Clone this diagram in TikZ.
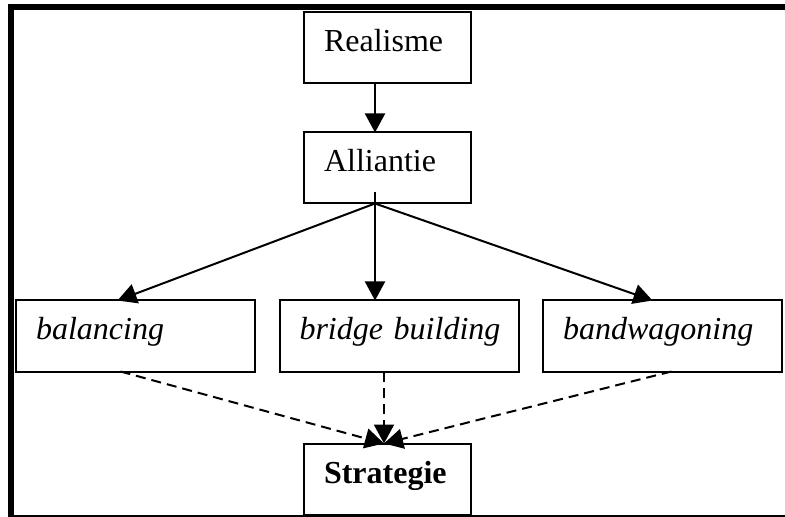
\documentclass[tikz,border=0pt]{standalone}
\usepackage{fontspec}
\setmainfont{Liberation Serif}
\usetikzlibrary{arrows.meta,positioning}
\tikzset{
  font=\fontsize{16pt}{19pt}\selectfont,
  box/.style={
    draw,
    line width=1pt,
    align=left,
    text width=63.5pt,
    minimum height=35.5pt,
    inner xsep=10pt,
    inner ysep=2pt,
    text height=11.2pt,
    text depth=7.2pt,
    outer sep=0pt
  },
  widebox/.style={
    box,
    text width=99.5pt,
    font=\fontsize{16pt}{19pt}\selectfont\itshape
  },
  frame/.style={line width=3pt},
  arrow/.style={-{Triangle[length=9.5pt,width=10pt]}, line width=1pt},
  dashedarrow/.style={arrow, dash pattern=on 5pt off 3pt}
}

\begin{document}
\begin{tikzpicture}[x=0.5pt, y=-0.5pt]
\useasboundingbox (0,0) rectangle (785,517);

% frame
\draw[frame] (8,7.3) -- (785,7.3);
\draw[frame] (11.2,4.5) -- (11.2,517);
\draw[line width=0.8pt] (11.2,516) -- (785,516);

\node[box] (realisme) at (387.5,48) {Realisme};
\node[box, below=24.5pt of realisme] (alliantie) {Alliantie};

% the three options
\node[widebox, below=48.5pt of alliantie, xshift=5.75pt] (bridge) {\mbox{bridge building}};
\node[widebox, left=12.25pt of bridge] (balancing) {balancing};
\node[widebox, right=12.25pt of bridge] (bandwagoning) {bandwagoning};

\node[box, below=36pt of bridge, xshift=-5.75pt] (strategie) {\bfseries Strategie};

\coordinate (hub) at ([xshift=-6.25pt]alliantie.south);
\coordinate (sink) at ([xshift=-1.75pt]strategie.north);

% Connections
\draw[arrow] ([xshift=-6.25pt]realisme.south) -- ([xshift=-6.25pt]alliantie.north);
\draw[arrow] (hub) -- ([xshift=-9pt]balancing.north);
\draw[arrow] ([yshift=5.5pt]hub) -- (bridge.north -| hub);
\draw[arrow] (hub) -- ([xshift=-5pt]bandwagoning.north);

\draw[dashedarrow] ([xshift=-7.5pt]balancing.south) -- (sink);
\draw[dashedarrow] ([xshift=-7.5pt]bridge.south) -- (sink);
\draw[dashedarrow] ([xshift=4.5pt]bandwagoning.south) -- (sink);

\end{tikzpicture}
\end{document}
